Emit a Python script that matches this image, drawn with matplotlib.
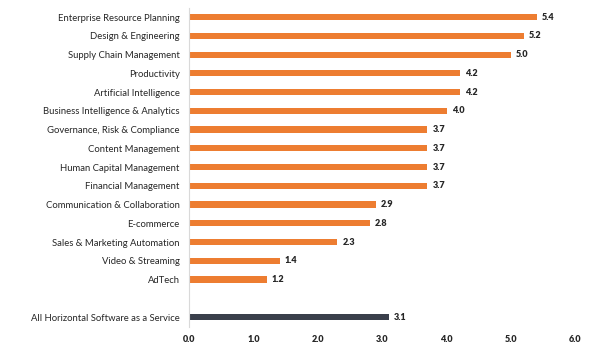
import matplotlib
matplotlib.use("Agg")
import matplotlib.pyplot as plt

categories = ["Enterprise Resource Planning", "Design & Engineering", "Supply Chain Management",
              "Productivity", "Artificial Intelligence", "Business Intelligence & Analytics",
              "Governance, Risk & Compliance", "Content Management", "Human Capital Management",
              "Financial Management", "Communication & Collaboration", "E-commerce",
              "Sales & Marketing Automation", "Video & Streaming", "AdTech"]
values = [5.4, 5.2, 5.0, 4.2, 4.2, 4.0, 3.7, 3.7, 3.7, 3.7, 2.9, 2.8, 2.3, 1.4, 1.2]
total_label = "All Horizontal Software as a Service"
total_value = 3.1
xticks = [0.0, 1.0, 2.0, 3.0, 4.0, 5.0, 6.0]

plt.rcParams['font.family'] = ['Lato', 'DejaVu Sans']
fig = plt.figure(figsize=(5.92, 3.53), dpi=100)
ax = fig.add_axes([0.320, 0.0737, 0.652, 0.9033])

orange = "#ED7D31"
dark = "#3A3F4B"
txt = "#262626"
bh = 0.33

pos = list(range(len(categories)))
ax.barh(pos, values, height=bh, color=orange)
tpos = len(categories) + 1
ax.barh([tpos], [total_value], height=bh, color=dark)

for p, v in zip(pos + [tpos], values + [total_value]):
    ax.text(v + 0.08, p, f"{v:.1f}", va="center", ha="left", fontsize=6.5,
            fontweight="heavy", color=txt)

ax.set_yticks(pos + [tpos])
ax.set_yticklabels(categories + [total_label], fontsize=6.8, color=txt)
ax.set_xticks(xticks)
ax.set_xticklabels([f"{t:.1f}" for t in xticks], fontsize=6.5, fontweight="heavy", color=txt)
ax.set_xlim(0, 6.0)
ax.set_ylim(16.53, -0.48)
ax.tick_params(axis="y", length=0, pad=7)
ax.tick_params(axis="x", length=0, pad=6)
for s in ["top", "right", "bottom"]:
    ax.spines[s].set_visible(False)
ax.spines["left"].set_color("#D9D9D9")
ax.spines["left"].set_linewidth(0.8)

fig.savefig("out.png", dpi=100, facecolor="white")
